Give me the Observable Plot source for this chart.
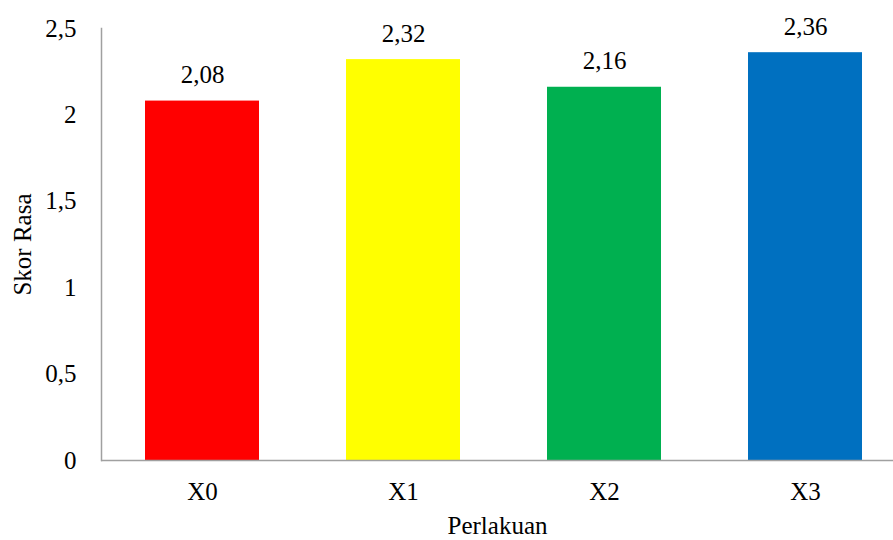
<!DOCTYPE html>
<html>
<head>
<meta charset="utf-8">
<script src="https://cdn.jsdelivr.net/npm/d3@7"></script>
<script src="https://cdn.jsdelivr.net/npm/@observablehq/plot@0.6"></script>
<style>
  html, body { margin: 0; padding: 0; background: #fff; }
  #chart svg { display: block; }
  #chart svg, #chart svg text { font-family: "Times New Roman", "Liberation Serif", Tinos, "DejaVu Serif", "Noto Serif", serif !important; }
</style>
</head>
<body>
<div id="chart"></div>
<script>
const categories = ["X0", "X1", "X2", "X3"];
const values = [2.08, 2.32, 2.16, 2.36];
const colors = ["#FF0000", "#FFFF00", "#00B050", "#0070C0"];
const yTicks = [0, 0.5, 1, 1.5, 2, 2.5];
const yLabel = "Skor Rasa";
const xLabel = "Perlakuan";

const data = categories.map((c, i) => ({cat: c, val: values[i]}));
const fmt = d => String(d).replace(".", ",");
const axisColor = "#a0a0a0";
const serif = "'Times New Roman', 'Liberation Serif', Tinos, 'DejaVu Serif', serif";

const chart = Plot.plot({
  width: 893,
  height: 540,
  marginLeft: 101,
  marginRight: 0,
  marginTop: 28,
  marginBottom: 80,
  style: "font-size: 25px; color: #000; background: #fff;",
  x: {domain: categories, range: [101, 905], paddingInner: 0.433, paddingOuter: 0.2165},
  y: {domain: [0, 2.5]},
  color: {domain: categories, range: colors},
  marks: [
    Plot.barY(data, {x: "cat", y: "val", fill: "cat"}),
    Plot.text(data, {x: "cat", y: "val", text: d => fmt(d.val), lineAnchor: "bottom", dy: -18, fontSize: 25, fontFamily: serif, fill: "#000"}),
    Plot.frame({anchor: "left", stroke: axisColor, strokeWidth: 1.5}),
    Plot.ruleY([0], {stroke: axisColor, strokeWidth: 1.5}),
    Plot.axisY({ticks: yTicks, tickSize: 0, tickPadding: 25, tickFormat: fmt, label: yLabel, labelAnchor: "center", labelArrow: "none", labelOffset: 88, fontSize: 25, fontFamily: serif}),
    Plot.axisX({tickSize: 0, tickPadding: 22, label: xLabel, labelAnchor: "center", labelArrow: "none", labelOffset: 73, fontSize: 25, fontFamily: serif})
  ]
});
document.getElementById("chart").appendChild(chart);
</script>
</body>
</html>
